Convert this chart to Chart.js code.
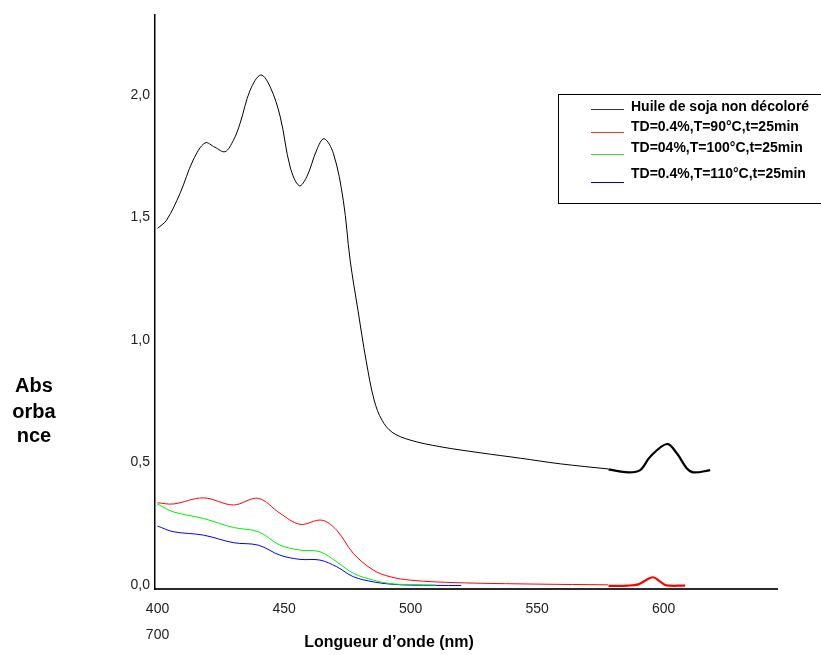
<!DOCTYPE html>
<html>
<head>
<meta charset="utf-8">
<script src="https://cdn.jsdelivr.net/npm/chart.js@4.4.1/dist/chart.umd.min.js"></script>
<style>
  body { margin: 0; background: #fff; }
  #wrap { width: 821px; height: 655px; }
</style>
</head>
<body>
<div id="wrap"><canvas id="myChart" width="821" height="655"></canvas></div>
<script>
// wavelengths (nm) and absorbance
let wlBlack = [400, 403.6, 408.9, 414.1, 418.8, 422.7, 426.7, 430.0, 432.6, 436.6, 440.8, 444.5, 448.5, 452.4, 456.0, 459.0, 462.9, 465.8, 469.5, 473.4, 476.1, 479.2, 482.4, 485.6, 488.7, 492.7, 499.8, 511.6, 527.5, 543.3, 559.1, 578.1];
let absBlack = [1.456, 1.490, 1.599, 1.735, 1.805, 1.787, 1.769, 1.816, 1.884, 2.020, 2.082, 2.034, 1.911, 1.707, 1.630, 1.667, 1.776, 1.822, 1.762, 1.571, 1.327, 1.122, 0.918, 0.755, 0.673, 0.624, 0.592, 0.565, 0.540, 0.518, 0.495, 0.474];

// second black piece (thicker stroke)
let wlBlack2 = [578.2, 586.1, 590.7, 594.7, 601.3, 605.2, 609.2, 611.8, 618.4];
let absBlack2 = [0.472, 0.460, 0.469, 0.524, 0.576, 0.538, 0.476, 0.460, 0.469];

let wlRed = [400, 406.2, 418.1, 430.0, 439.8, 448.4, 456.3, 464.9, 470.8, 477.4, 485.3, 491.9, 500, 510, 525, 550, 578];
let absRed = [0.336, 0.331, 0.356, 0.327, 0.354, 0.293, 0.248, 0.265, 0.224, 0.129, 0.061, 0.034, 0.020, 0.013, 0.008, 0.004, 0.001];

let wlRed2 = [578.2, 586, 590, 593, 595.8, 598.5, 601, 608.5];
let absRed2 = [-0.003, -0.002, 0.003, 0.020, 0.032, 0.015, -0.001, -0.002];

let wlGreen = [400, 406.2, 418.1, 430.0, 439.8, 448.4, 456.3, 464.2, 470.8, 477.4, 485.3, 491.9, 500, 510];
let absGreen = [0.331, 0.299, 0.272, 0.235, 0.218, 0.163, 0.143, 0.136, 0.095, 0.048, 0.020, 0.006, 0.002, 0.0];

let wlBlue = [400, 406.2, 418.1, 430.0, 439.8, 448.4, 456.3, 464.2, 470.8, 477.4, 485.3, 491.9, 500, 520];
let absBlue = [0.241, 0.218, 0.204, 0.173, 0.163, 0.122, 0.105, 0.102, 0.075, 0.034, 0.013, 0.004, 0.0, -0.002];

let xTicks = [400, 450, 500, 550, 600];
let yTicks = [0, 0.5, 1.0, 1.5, 2.0];

let legendLabels = [
    "Huile de soja non décoloré",
    "TD=0.4%,T=90°C,t=25min",
    "TD=04%,T=100°C,t=25min",
    "TD=0.4%,T=110°C,t=25min"
];
let legendColors = ["#333333", "#ff3030", "#30e030", "#0000ee"];

function toPoints(xs, ys) {
    let pts = [];
    for (let i = 0; i < xs.length; i++) {
        pts.push({ x: xs[i], y: ys[i] });
    }
    return pts;
}

function makeSet(xs, ys, color, width) {
    return {
        data: toPoints(xs, ys),
        borderColor: color,
        borderWidth: width,
        pointRadius: 0,
        fill: false,
        tension: 0.35
    };
}

const FONT = "'Liberation Sans', Arial, sans-serif";

// titles + legend box drawn on top
const extras = {
    id: 'extras',
    afterDraw(chart) {
        let ctx = chart.ctx;
        ctx.save();
        ctx.fillStyle = '#000';
        ctx.textAlign = 'center';
        ctx.textBaseline = 'middle';
        ctx.font = "bold 20px " + FONT;
        ctx.fillText("Abs", 34, 386);
        ctx.fillText("orba", 34, 412);
        ctx.fillText("nce", 34, 436);

        ctx.font = "bold 16px " + FONT;
        ctx.fillText("Longueur d’onde (nm)", 389, 643);

        // legend
        ctx.strokeStyle = '#000';
        ctx.lineWidth = 1;
        ctx.strokeRect(558.5, 94.5, 300, 109);
        let lineY = [109, 132, 154, 182];
        let textY = [107, 127, 148, 174];
        ctx.font = "bold 14px " + FONT;
        ctx.textAlign = 'left';
        for (let i = 0; i < legendLabels.length; i++) {
            ctx.strokeStyle = legendColors[i];
            ctx.beginPath();
            ctx.moveTo(591, lineY[i] + 0.5);
            ctx.lineTo(624, lineY[i] + 0.5);
            ctx.stroke();
            ctx.fillStyle = '#000';
            ctx.fillText(legendLabels[i], 631, textY[i]);
        }
        ctx.restore();
    }
};

const ctx = document.getElementById('myChart').getContext('2d');
let myChart = new Chart(ctx, {
    type: 'line',
    data: {
        datasets: [
            makeSet(wlBlack, absBlack, '#000000', 1),
            makeSet(wlBlack2, absBlack2, '#000000', 2.2),
            makeSet(wlRed, absRed, '#ff0000', 1),
            makeSet(wlRed2, absRed2, '#ff0000', 2.2),
            makeSet(wlGreen, absGreen, '#00ee00', 1),
            makeSet(wlBlue, absBlue, '#0000ff', 1)
        ]
    },
    options: {
        responsive: false,
        animation: false,
        layout: { padding: { top: 15, right: 44, left: 0, bottom: 0 } },
        plugins: {
            legend: { display: false },
            tooltip: { enabled: false }
        },
        scales: {
            x: {
                type: 'linear',
                min: 399,
                max: 644.8,
                grid: { display: false, drawTicks: false, tickLength: 0 },
                border: { display: true, color: '#2a2a2a', width: 2 },
                afterBuildTicks: function(scale) {
                    scale.ticks = xTicks.map(v => ({ value: v }));
                },
                afterFit: function(scale) { scale.height = 66; },
                ticks: {
                    color: '#222',
                    padding: 7,
                    maxRotation: 0,
                    autoSkip: false,
                    font: { family: FONT, size: 14, lineHeight: 1.85 },
                    callback: function(v) {
                        if (v === 400) return ['400', '700'];
                        return String(v);
                    }
                }
            },
            y: {
                min: -0.016,
                max: 2.327,
                grid: { display: false, drawTicks: false, tickLength: 0 },
                border: { display: true, color: '#000', width: 1.5 },
                afterBuildTicks: function(scale) {
                    scale.ticks = yTicks.map(v => ({ value: v }));
                },
                afterFit: function(scale) { scale.width = 155; },
                ticks: {
                    color: '#222',
                    padding: 5,
                    font: { family: FONT, size: 14 },
                    callback: function(v) {
                        return v.toFixed(1).replace('.', ',');
                    }
                }
            }
        }
    },
    plugins: [extras]
});
</script>
</body>
</html>
